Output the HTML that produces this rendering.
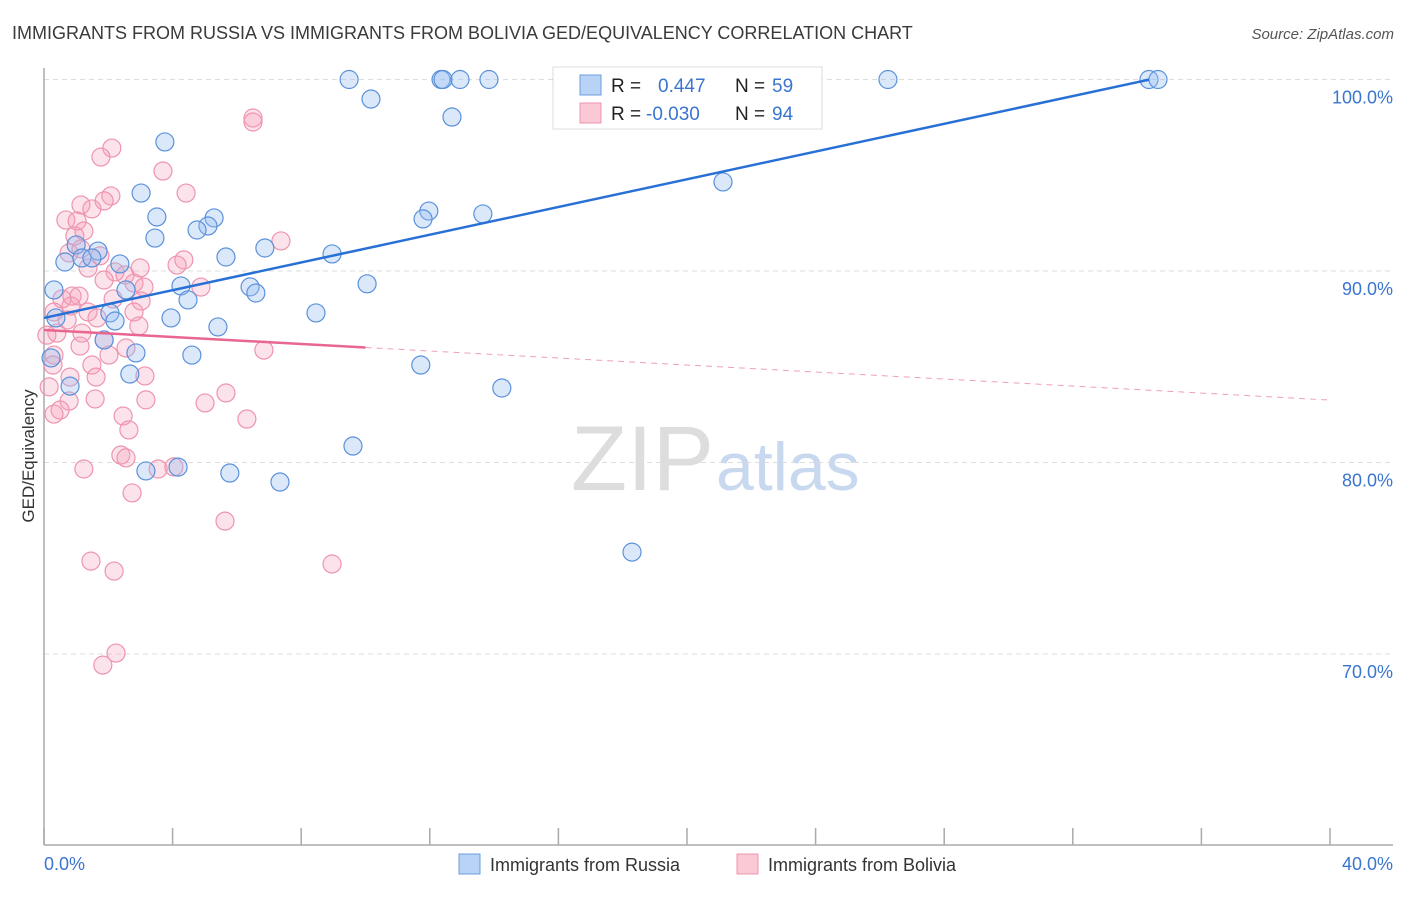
<!DOCTYPE html>
<html><head><meta charset="utf-8"><style>
body{margin:0;background:#fff;font-family:"Liberation Sans",sans-serif;}
svg text{font-family:"Liberation Sans",sans-serif;}
</style></head><body>
<svg id="chart" width="1406" height="892" viewBox="0 0 1406 892">
<text x="12" y="39" font-size="18" fill="#3a3a3a">IMMIGRANTS FROM RUSSIA VS IMMIGRANTS FROM BOLIVIA GED/EQUIVALENCY CORRELATION CHART</text>
<text x="1394" y="39" font-size="15" fill="#555" font-style="italic" text-anchor="end">Source: ZipAtlas.com</text>
<text x="714" y="490" font-size="92" fill="#ddd" text-anchor="end" font-family="Liberation Serif">ZIP</text>
<text x="716" y="490" font-size="68" fill="#c8d8ef">atlas</text>
<g id="grid"></g>
<g id="axes"></g>
<g id="marks"></g>
<text transform="translate(34,456) rotate(-90)" font-size="17" fill="#333" text-anchor="middle">GED/Equivalency</text>
<g>
<rect x="553" y="67" width="269" height="62" fill="#fff" stroke="#ddd"/>
<rect x="580" y="75" width="21" height="20" fill="#b8d3f5" stroke="#6b9ee0"/>
<rect x="580" y="103" width="21" height="20" fill="#fbc8d6" stroke="#ee94ae"/>
<text x="611" y="92" font-size="19" fill="#222">R = </text><text x="658" y="92" font-size="19" fill="#3a75d0">0.447</text>
<text x="735" y="92" font-size="19" fill="#222">N = </text><text x="772" y="92" font-size="19" fill="#3a75d0">59</text>
<text x="611" y="120" font-size="19" fill="#222">R = </text><text x="646" y="120" font-size="19" fill="#3a75d0">-0.030</text>
<text x="735" y="120" font-size="19" fill="#222">N = </text><text x="772" y="120" font-size="19" fill="#3a75d0">94</text>
</g>
<g>
<rect x="459" y="854" width="21" height="20" fill="#b8d3f5" stroke="#6b9ee0"/>
<text x="490" y="871" font-size="18" fill="#333">Immigrants from Russia</text>
<rect x="737" y="854" width="21" height="20" fill="#fbc8d6" stroke="#ee94ae"/>
<text x="768" y="871" font-size="18" fill="#333">Immigrants from Bolivia</text>
</g>
</svg>
<script>
const blueX=[9.49,12.35,12.41,12.94,13.84,16.11,26.25,34.37,34.65,10.17,12.69,3.76,3.02,21.12,3.51,5.29,11.97,11.79,13.65,5.10,4.76,3.45,1.00,1.68,6.87,5.66,8.96,0.65,1.18,1.49,2.36,10.05,4.26,6.41,6.59,2.55,4.48,0.31,8.46,3.95,2.05,2.21,5.41,0.37,1.87,2.86,4.60,0.22,11.72,2.67,14.24,0.81,9.61,3.17,4.17,5.78,7.34,18.29];
const blueY=[100,100,100,100,100,100,100,100,100,98.98,98.04,96.74,94.07,94.65,92.82,92.77,93.13,92.72,92.98,92.35,92.14,91.72,91.36,91.04,91.20,90.73,90.89,90.47,90.68,90.68,90.37,89.33,89.22,89.17,88.85,89.01,88.49,89.01,87.81,87.55,87.81,87.39,87.08,87.55,86.40,85.72,85.61,85.46,85.09,84.62,83.89,83.99,80.86,79.56,79.76,79.45,78.98,75.32];
const pinkX=[6.50,6.50,2.11,1.77,3.70,4.42,2.08,1.87,1.15,1.49,0.68,1.03,1.24,0.96,7.37,0.78,1.15,1.74,4.35,4.14,2.99,1.37,2.21,1.87,2.52,2.80,3.11,4.88,0.56,0.87,1.09,2.15,3.02,0.84,1.37,1.65,2.80,2.95,0.31,0.72,0.40,1.18,1.87,0.09,1.12,2.02,2.55,6.84,0.31,0.28,1.49,0.81,1.62,3.14,0.16,5.66,3.17,1.59,0.78,0.50,0.31,2.46,5.01,6.31,2.64,2.39,2.55,3.55,4.04,1.24,2.74,5.63,1.46,2.18,8.96,2.24,1.83];
const pinkY=[97.99,97.78,96.42,95.95,95.22,94.07,93.92,93.66,93.45,93.24,92.66,92.61,92.09,91.83,91.57,90.94,91.15,90.79,90.58,90.31,90.16,90.16,89.95,89.53,89.79,89.37,89.16,89.16,88.54,88.69,88.69,88.54,88.43,88.17,87.86,87.55,87.86,87.13,87.86,87.44,86.76,86.76,86.40,86.65,86.08,85.61,85.98,85.87,85.61,85.09,85.09,84.46,84.46,84.52,83.95,83.63,83.27,83.32,83.21,82.74,82.53,82.43,83.11,82.27,81.70,80.39,80.24,79.66,79.77,79.66,78.41,76.94,74.85,74.33,74.70,70.05,69.42];
const yTicks=[100,90,80,70];
const yTickLabels=["100.0%","90.0%","80.0%","70.0%"];
const xTicks=[0,4,8,12,16,20,24,28,32,36,40];
const blueTrend=[87.55,0.362];
const pinkTrend=[86.92,-0.0915];
const NS='http://www.w3.org/2000/svg';
const sx=v=>44+v*32.15;
const sy=v=>79.5+(100-v)*19.15;
function mk(tag,attrs,parent){const e=document.createElementNS(NS,tag);for(const k in attrs)e.setAttribute(k,attrs[k]);document.getElementById(parent).appendChild(e);return e;}
yTicks.forEach((t,i)=>{
  const g=mk('line',{x1:44,x2:1393,y1:sy(t),y2:sy(t),stroke:'#ddd','stroke-dasharray':'5,4'},'grid');
  
  
  const l=mk('text',{x:1393,y:sy(t)+24,'font-size':18,fill:'#3a75d0','text-anchor':'end'},'axes');
  l.textContent=yTickLabels[i];
  
  
});
const ya=mk('line',{x1:44,x2:44,y1:68,y2:845,stroke:'#aaa','stroke-width':1.5},'axes');


const xa=mk('line',{x1:44,x2:1393,y1:845,y2:845,stroke:'#aaa','stroke-width':1.5},'axes');


xTicks.forEach(t=>{
  const k=mk('line',{x1:sx(t),x2:sx(t),y1:828,y2:845,stroke:'#aaa','stroke-width':1.5},'axes');
  
  
});
const x0=mk('text',{x:44,y:870,'font-size':18,fill:'#3a75d0'},'axes');x0.textContent='0.0%';


const x1=mk('text',{x:1393,y:870,'font-size':18,fill:'#3a75d0','text-anchor':'end'},'axes');x1.textContent='40.0%';


pinkX.forEach((x,i)=>{
  const c=mk('circle',{cx:sx(x),cy:sy(pinkY[i]),r:9,fill:'rgba(246,160,186,0.3)',stroke:'#ee94ae','stroke-width':1.2},'marks');
  
  
});
blueX.forEach((x,i)=>{
  const c=mk('circle',{cx:sx(x),cy:sy(blueY[i]),r:9,fill:'rgba(150,190,240,0.35)',stroke:'#5b91db','stroke-width':1.2},'marks');
  
  
});
const bt=mk('line',{x1:sx(0),y1:sy(blueTrend[0]),x2:sx(34.37),y2:sy(blueTrend[0]+blueTrend[1]*34.37),stroke:'#2870d6','stroke-width':2.5},'marks');


const pt=mk('line',{x1:sx(0),y1:sy(pinkTrend[0]),x2:sx(10),y2:sy(pinkTrend[0]+pinkTrend[1]*10),stroke:'#e8668f','stroke-width':2.5},'marks');


const pd=mk('line',{x1:sx(10),y1:sy(pinkTrend[0]+pinkTrend[1]*10),x2:sx(40),y2:sy(pinkTrend[0]+pinkTrend[1]*40),stroke:'#eea0b8','stroke-width':1,'stroke-dasharray':'6,5'},'marks');


</script>
</body></html>
